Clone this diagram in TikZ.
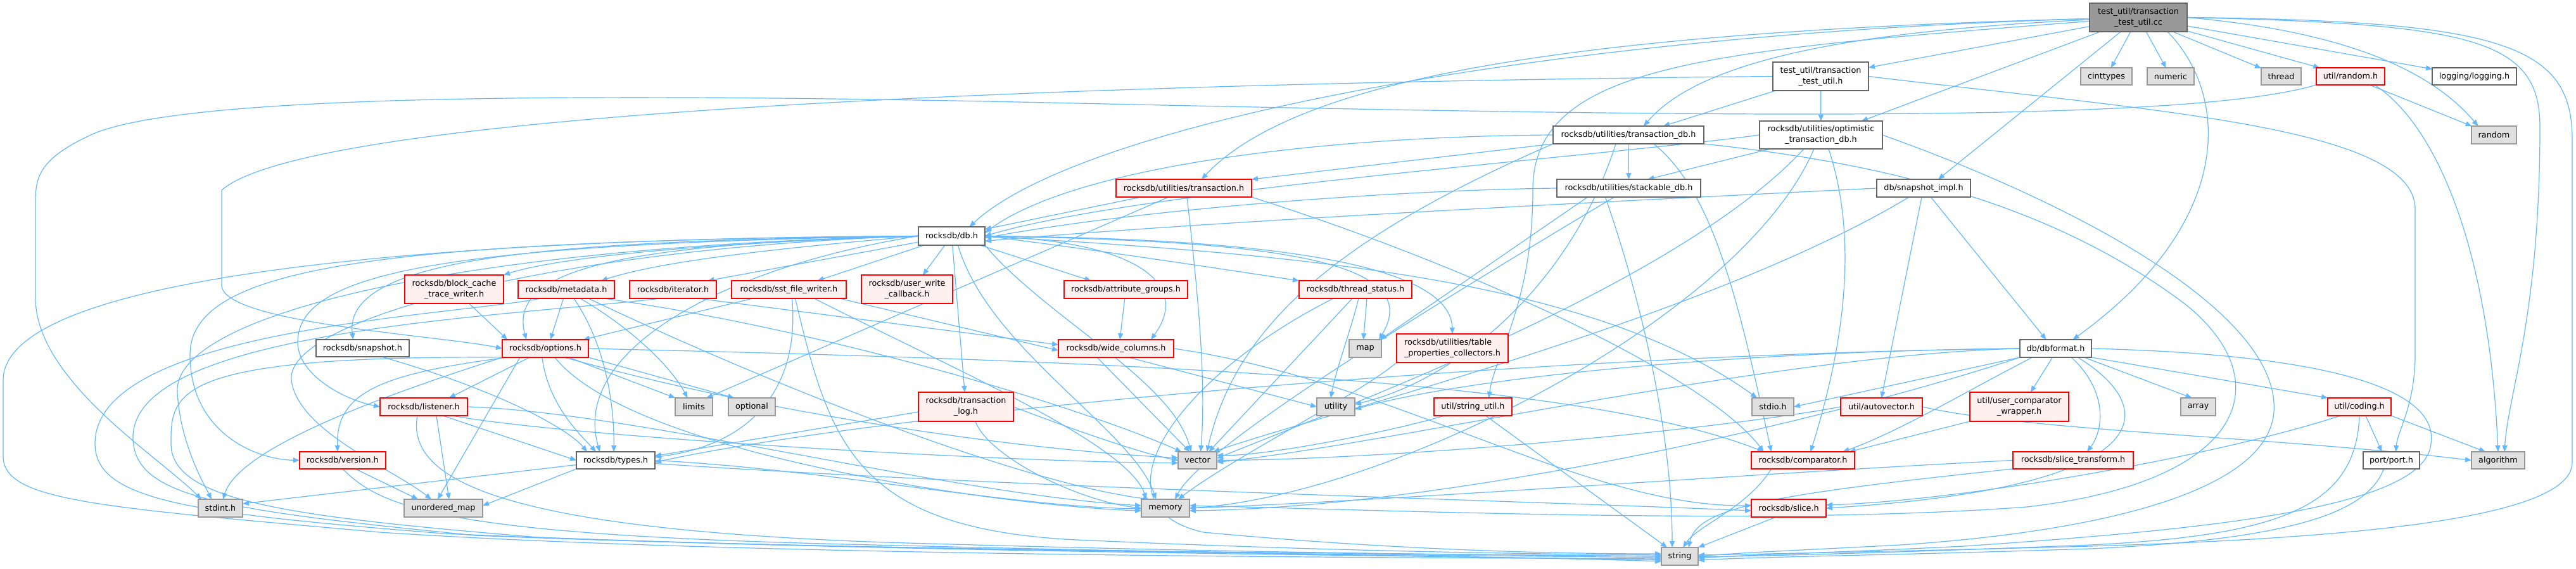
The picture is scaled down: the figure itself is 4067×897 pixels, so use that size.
\documentclass[tikz,border=0pt]{standalone}
\usepackage{fontspec}
\setmainfont{DejaVu Sans}
\usetikzlibrary{arrows.meta,backgrounds}
\definecolor{edgec}{HTML}{63B8FF}
\definecolor{redb}{HTML}{FF0000}
\definecolor{redf}{HTML}{FFF0F0}
\definecolor{grayf}{HTML}{E0E0E0}
\definecolor{grayb}{HTML}{999999}
\definecolor{darkb}{HTML}{666666}
\definecolor{ccf}{HTML}{999999}
\pgfdeclarelayer{bgzero}
\pgfsetlayers{bgzero,background,main}
\newcommand\mknode[7]{\node[#2,minimum width=#3pt,minimum height=#4pt] (#1) at (#5,#6) {#7};}
\tikzset{
  ndbase/.style={draw,inner sep=0pt,outer sep=0pt,line width=1.4pt,align=center,font=\fontsize{12.8}{17.2}\selectfont},
  rednd/.style={ndbase,draw=redb,fill=redf},
  graynd/.style={ndbase,draw=grayb,fill=grayf},
  whitend/.style={ndbase,draw=darkb,fill=white},
  ccnd/.style={ndbase,draw=darkb,fill=ccf},
  lnk/.style={draw=edgec,line width=1.2pt,-{Triangle[length=10pt,width=8pt]}}
}
\begin{document}
\begin{tikzpicture}[x=1pt,y=1pt]
\begin{pgfonlayer}{bgzero}
\fill[white] (0,0) rectangle (4067,-897);
\end{pgfonlayer}
\useasboundingbox (0,0) rectangle (4067,-897);
% nodes
\mknode{cc}{ccnd}{154}{45}{3376}{-27.5}{test\_util/transaction\\\_test\_util.cc}
\mknode{tth}{whitend}{151}{45}{2874.5}{-120.5}{test\_util/transaction\\\_test\_util.h}
\mknode{cinttypes}{graynd}{81}{27}{3325.5}{-120.5}{cinttypes}
\mknode{numeric}{graynd}{74}{27}{3427}{-120.5}{numeric}
\mknode{thread}{graynd}{63}{27}{3601.5}{-120.5}{thread}
\mknode{randomh}{rednd}{108}{27}{3711}{-120.5}{util/random.h}
\mknode{logging}{whitend}{133}{27}{3906.5}{-120.5}{logging/logging.h}
\mknode{tdb}{whitend}{238}{28}{2571}{-213}{rocksdb/utilities/transaction\_db.h}
\mknode{otdb}{whitend}{194}{44}{2875}{-213}{rocksdb/utilities/optimistic\\\_transaction\_db.h}
\mknode{random}{graynd}{71}{28}{3937.5}{-213}{random}
\mknode{txn}{rednd}{214}{28}{1869}{-297}{rocksdb/utilities/transaction.h}
\mknode{stackable}{whitend}{227}{28}{2571.5}{-297}{rocksdb/utilities/stackable\_db.h}
\mknode{snapimpl}{whitend}{148}{28}{3037}{-297}{db/snapshot\_impl.h}
\mknode{dbh}{whitend}{105}{29}{1502.5}{-372.5}{rocksdb/db.h}
\mknode{block}{rednd}{156}{45}{717}{-456.5}{rocksdb/block\_cache\\\_trace\_writer.h}
\mknode{metadata}{rednd}{152}{28}{894}{-457}{rocksdb/metadata.h}
\mknode{iterator}{rednd}{137}{28}{1062.5}{-457}{rocksdb/iterator.h}
\mknode{sst}{rednd}{181}{28}{1245.5}{-457}{rocksdb/sst\_file\_writer.h}
\mknode{uwc}{rednd}{144}{45}{1432}{-456.5}{rocksdb/user\_write\\\_callback.h}
\mknode{attr}{rednd}{195}{28}{1777.5}{-457}{rocksdb/attribute\_groups.h}
\mknode{tstatus}{rednd}{178}{28}{2140}{-457}{rocksdb/thread\_status.h}
\mknode{snapshot}{whitend}{147}{27}{572.5}{-549.5}{rocksdb/snapshot.h}
\mknode{options}{rednd}{136}{28}{861}{-550}{rocksdb/options.h}
\mknode{wide}{rednd}{182}{28}{1762}{-550}{rocksdb/wide\_columns.h}
\mknode{map}{graynd}{51}{28}{2155.5}{-550}{map}
\mknode{tpc}{rednd,align=left}{176}{45}{2293}{-549.5}{rocksdb/utilities/table\\\_properties\_collectors.h}
\mknode{dbformat}{whitend}{113}{28}{3245.5}{-550}{db/dbformat.h}
\mknode{listener}{rednd}{138}{28}{669}{-642}{rocksdb/listener.h}
\mknode{limits}{graynd}{59}{28}{1095.5}{-642}{limits}
\mknode{optional}{graynd}{74}{28}{1187}{-642}{optional}
\mknode{tlog}{rednd}{150}{46}{1525}{-642}{rocksdb/transaction\\\_log.h}
\mknode{utility}{graynd}{60}{28}{2109}{-642}{utility}
\mknode{strutil}{rednd}{123}{28}{2325.5}{-642}{util/string\_util.h}
\mknode{stdio}{graynd}{66}{28}{2799}{-642}{stdio.h}
\mknode{autovec}{rednd}{129}{28}{2970.5}{-642}{util/autovector.h}
\mknode{ucw}{rednd}{156}{46}{3188}{-642}{util/user\_comparator\\\_wrapper.h}
\mknode{array}{graynd}{55}{28}{3470.5}{-642}{array}
\mknode{coding}{rednd}{100}{28}{3725}{-642}{util/coding.h}
\mknode{version}{rednd}{136}{27}{541}{-726.5}{rocksdb/version.h}
\mknode{types}{whitend}{124}{27}{972}{-726.5}{rocksdb/types.h}
\mknode{vector}{graynd}{61}{27}{1890.5}{-726.5}{vector}
\mknode{comparator}{rednd}{163}{27}{2846.5}{-726.5}{rocksdb/comparator.h}
\mknode{slicetr}{rednd}{190}{27}{3273}{-726.5}{rocksdb/slice\_transform.h}
\mknode{port}{whitend}{89}{27}{3775.5}{-726.5}{port/port.h}
\mknode{algorithm}{graynd}{84}{27}{3944}{-726.5}{algorithm}
\mknode{stdint}{graynd}{70}{28}{348}{-802}{stdint.h}
\mknode{umap}{graynd}{124}{28}{700}{-802}{unordered\_map}
\mknode{memory}{graynd}{76}{28}{1840}{-802}{memory}
\mknode{slice}{rednd}{118}{28}{2824}{-802}{rocksdb/slice.h}
\mknode{string}{graynd}{58}{28}{2652}{-878}{string}
% edges
\begin{pgfonlayer}{background}
% from cc
\draw[lnk] (cc) -- (tth);
\draw[lnk] (cc) -- (cinttypes);
\draw[lnk] (cc) -- (numeric);
\draw[lnk] (cc) -- (thread);
\draw[lnk] (cc) -- (randomh);
\draw[lnk] (cc) -- (logging);
\draw[lnk] (cc.east) .. controls (3650,-45) and (3820,-90) .. ([xshift=-25pt]random.north);
\draw[lnk] (cc.east) .. controls (3900,-38) and (4010,-60) .. (4010,-200) .. controls (4010,-500) and (3960,-620) .. ([xshift=10pt]algorithm.north);
\draw[lnk] (cc.east) .. controls (3950,-33) and (4061,-70) .. (4061,-220) -- (4061,-730) .. controls (4061,-820) and (3700,-850) .. (3300,-862) .. controls (3000,-870) and (2800,-874) .. ([yshift=2pt]string.east);
\draw[lnk] (cc) .. controls (2400,-55) and (1700,-200) .. ([xshift=28pt]dbh.north);
\draw[lnk] (cc) .. controls (2500,-50) and (2050,-120) .. ([xshift=28pt]txn.north);
\draw[lnk] (cc) .. controls (2900,-50) and (2680,-100) .. ([xshift=24pt]tdb.north);
\draw[lnk] (cc) -- ([xshift=64pt]otdb.north);
\draw[lnk] (cc) -- ([xshift=23pt]snapimpl.north);
\draw[lnk] ([xshift=46pt]cc.south) .. controls (3520,-150) and (3530,-350) .. ([xshift=27pt]dbformat.north);
\draw[lnk] (cc) .. controls (2700,-80) and (2420,-100) .. (2420,-300) .. controls (2420,-480) and (2360,-560) .. ([xshift=25pt]strutil.north);
% from tth
\draw[lnk] (tth) -- (otdb);
\draw[lnk] (tth) -- ([xshift=55pt]tdb.north);
\draw[lnk] (tth.west) .. controls (1800,-130) and (500,-170) .. (350,-300) -- (350,-450) .. controls (350,-510) and (700,-530) .. (options.west);
\draw[lnk] (tth.east) .. controls (3400,-175) and (3813,-200) .. (3813,-330) -- (3813,-560) .. controls (3813,-640) and (3785,-680) .. ([xshift=7pt]port.north);
% from tdb
\draw[lnk] (tdb) -- (stackable);
\draw[lnk] (tdb.south west) -- (txn.north east);
\draw[lnk] (tdb.west) .. controls (2100,-215) and (1700,-260) .. ([yshift=5pt]dbh.east);
\draw[lnk] ([xshift=40pt]tdb.south) .. controls (2700,-300) and (2740,-450) .. ([xshift=-50pt]comparator.north);
\draw[lnk] (tdb.south west) .. controls (2100,-380) and (1950,-520) .. ([xshift=15pt]vector.north);
\draw[lnk] ([xshift=-20pt]tdb.south) .. controls (2480,-450) and (2300,-600) .. ([yshift=4pt]utility.east);
\draw[lnk] (tdb.south east) .. controls (3000,-260) and (3250,-330) .. (3450,-480) .. controls (3600,-600) and (3550,-760) .. (3200,-800) .. controls (2800,-830) and (2200,-805) .. ([yshift=4pt]memory.east);
% from otdb
\draw[lnk] ([xshift=-80pt]otdb.south) -- ([xshift=30pt]stackable.north);
\draw[lnk] (otdb.west) .. controls (2500,-250) and (1800,-300) .. (dbh.east);
\draw[lnk] ([xshift=12pt]otdb.south) .. controls (2925,-350) and (2925,-500) .. ([xshift=12pt]comparator.north);
\draw[lnk] ([xshift=-27pt]otdb.south) .. controls (2650,-450) and (2100,-650) .. ([yshift=3pt]vector.east);
\draw[lnk] ([xshift=-11pt]otdb.south) .. controls (2750,-500) and (2200,-780) .. (memory.east);
\draw[lnk] (otdb.east) .. controls (3300,-330) and (3600,-500) .. (3590,-650) .. controls (3580,-780) and (3300,-840) .. (3000,-860) .. controls (2850,-868) and (2750,-872) .. (string.east);
% from txn
\draw[lnk] (txn) -- (dbh);
\draw[lnk] (txn.south east) .. controls (2350,-430) and (2700,-600) .. ([xshift=-62pt]comparator.north);
\draw[lnk] ([xshift=-24pt]txn.south) -- ([xshift=20pt]limits.north);
\draw[lnk] ([xshift=5pt]txn.south) .. controls (1890,-450) and (1905,-600) .. ([xshift=5pt]vector.north);
% from stackable
\draw[lnk] (stackable.west) .. controls (2200,-300) and (1800,-330) .. ([yshift=-3pt]dbh.east);
\draw[lnk] ([xshift=-65pt]stackable.south) -- ([xshift=-2pt]map.north east);
\draw[lnk] ([xshift=-37pt]stackable.south) .. controls (2600,-500) and (2640,-700) .. ([xshift=-12pt]string.north);
\draw[lnk] ([xshift=-23pt]stackable.south) .. controls (2300,-460) and (1900,-700) .. ([xshift=15pt]memory.north);
% from snapimpl
\draw[lnk] (snapimpl.west) .. controls (2500,-320) and (1900,-350) .. ([yshift=-8pt]dbh.east);
\draw[lnk] (snapimpl) -- ([xshift=-15pt]dbformat.north);
\draw[lnk] ([xshift=-3pt]snapimpl.south) -- (autovec.north);
\draw[lnk] ([xshift=-23pt]snapimpl.south) .. controls (2700,-500) and (2100,-650) .. ([xshift=25pt]vector.north);
% from dbh
\draw[lnk] (dbh.west) .. controls (1200,-380) and (900,-400) .. (block.north east);
\draw[lnk] (dbh.west) .. controls (1250,-390) and (1050,-410) .. ([xshift=55pt]metadata.north);
\draw[lnk] (dbh) -- ([xshift=55pt]iterator.north);
\draw[lnk] (dbh) -- ([xshift=45pt]sst.north);
\draw[lnk] (dbh) -- ([xshift=25pt]uwc.north);
\draw[lnk] (dbh) -- ([xshift=-55pt]attr.north);
\draw[lnk] (dbh.east) .. controls (1700,-390) and (1900,-420) .. (tstatus.north west);
\draw[lnk] (dbh.east) .. controls (1950,-380) and (2260,-400) .. ([xshift=-4pt]map.north east);
\draw[lnk] (dbh.west) .. controls (900,-380) and (540,-400) .. ([xshift=-15pt]snapshot.north);
\draw[lnk] (dbh.west) .. controls (1000,-385) and (800,-420) .. ([xshift=-30pt]options.north);
\draw[lnk] (dbh.west) .. controls (700,-385) and (470,-430) .. (470,-540) .. controls (470,-590) and (540,-630) .. (listener.west);
\draw[lnk] (dbh.west) .. controls (600,-380) and (300,-420) .. (300,-560) .. controls (300,-680) and (400,-725) .. (version.west);
\draw[lnk] (dbh.west) .. controls (700,-390) and (270,-500) .. (280,-620) .. controls (285,-700) and (320,-760) .. ([xshift=-14pt]stdint.north);
\draw[lnk] (dbh.west) .. controls (900,-390) and (450,-500) .. (460,-600) .. controls (470,-680) and (620,-740) .. ([xshift=-19pt]umap.north);
\draw[lnk] (dbh.east) .. controls (2000,-400) and (2500,-430) .. ([xshift=-25pt]stdio.north);
\draw[lnk] ([xshift=10pt]dbh.south) .. controls (1560,-550) and (1790,-680) .. ([xshift=-15pt]memory.north);
\draw[lnk] (dbh.south east) .. controls (1650,-500) and (1850,-600) .. ([xshift=-10pt]vector.north);
\draw[lnk] (dbh.west) .. controls (800,-375) and (5,-420) .. (5,-600) -- (5,-720) .. controls (5,-790) and (150,-800) .. (600,-840) .. controls (1200,-880) and (2300,-880) .. ([yshift=-4pt]string.west);
\draw[lnk] (dbh) -- (tlog);
\draw[lnk] (dbh.west) .. controls (1150,-420) and (900,-550) .. ([xshift=-25pt]types.north);
\draw[lnk] (dbh.east) .. controls (1800,-380) and (1880,-450) .. ([xshift=55pt]wide.north);
\draw[lnk] (dbh.east) .. controls (1900,-375) and (2290,-400) .. (tpc.north);
% block, metadata, iterator, sst, attr, tstatus, snapshot
\draw[lnk] (block) -- ([xshift=-60pt]options.north);
\draw[lnk] (metadata) -- ([xshift=8pt]options.north);
\draw[lnk] ([xshift=12pt]metadata.south) .. controls (960,-550) and (970,-650) .. ([xshift=-3pt]types.north);
\draw[lnk] ([xshift=22pt]metadata.south) .. controls (1000,-520) and (1060,-580) .. ([xshift=-10pt]limits.north);
\draw[lnk] ([xshift=35pt]metadata.south) .. controls (1200,-600) and (1600,-760) .. ([xshift=-25pt]memory.north);
\draw[lnk] ([xshift=60pt]metadata.south) .. controls (1300,-520) and (1700,-640) .. ([xshift=-25pt]vector.north);
\draw[lnk] ([xshift=-40pt]metadata.south) .. controls (700,-500) and (150,-520) .. (150,-700) .. controls (150,-790) and (300,-810) .. (700,-842) .. controls (1300,-870) and (2300,-876) .. ([yshift=-2pt]string.west);
\draw[lnk] ([xshift=-20pt]iterator.south) .. controls (800,-500) and (210,-520) .. (210,-690) .. controls (210,-785) and (350,-805) .. (750,-845) .. controls (1350,-870) and (2300,-874) .. (string.west);
\draw[lnk] ([xshift=40pt]iterator.south) -- ([yshift=6pt]wide.west);
\draw[lnk] ([xshift=-57pt]sst.south) -- ([xshift=60pt]options.north);
\draw[lnk] ([xshift=5pt]sst.south) .. controls (1262,-600) and (1200,-700) .. ([yshift=5pt]types.east);
\draw[lnk] ([xshift=80pt]sst.south) -- ([yshift=-3pt]wide.west);
\draw[lnk] ([xshift=40pt]sst.south) .. controls (1500,-580) and (1780,-700) .. ([xshift=-30pt]memory.north);
\draw[lnk] ([xshift=10pt]sst.south) .. controls (1310,-700) and (1350,-835) .. (1700,-852) .. controls (2100,-870) and (2400,-874) .. ([yshift=2pt]string.west);
\draw[lnk] (attr) -- ([xshift=6pt]wide.north);
\draw[lnk] ([xshift=18pt]tstatus.south) -- ([xshift=-3pt]map.north);
\draw[lnk] ([xshift=5pt]tstatus.south) .. controls (2130,-530) and (2110,-580) .. ([xshift=-8pt]utility.north);
\draw[lnk] ([xshift=-5pt]tstatus.south) -- ([xshift=18pt]vector.north);
\draw[lnk] ([xshift=-35pt]tstatus.south) .. controls (1850,-600) and (1720,-800) .. (1900,-840) .. controls (2200,-868) and (2450,-874) .. ([yshift=4pt]string.west);
\draw[lnk] ([xshift=30pt]snapshot.south) .. controls (800,-620) and (900,-680) .. ([xshift=-45pt]types.north);
% options
\draw[lnk] (options.south west) .. controls (650,-610) and (380,-700) .. ([xshift=4pt]stdint.north);
\draw[lnk] ([xshift=37pt]options.south) -- (limits.north west);
\draw[lnk] (options.south east) -- ([xshift=-28pt]optional.north);
\draw[lnk] ([xshift=15pt]options.south) .. controls (1000,-720) and (1600,-800) .. ([yshift=-4pt]memory.west);
\draw[lnk] ([xshift=-55pt]options.south) .. controls (270,-560) and (270,-620) .. (270,-700) .. controls (270,-790) and (450,-815) .. (850,-848) .. controls (1450,-872) and (2300,-877) .. ([yshift=-6pt]string.west);
\draw[lnk] ([xshift=-40pt]options.south) -- ([xshift=-9pt]umap.north);
\draw[lnk] ([xshift=30pt]options.south) .. controls (1200,-650) and (1600,-710) .. ([yshift=4pt]vector.west);
\draw[lnk] (options.east) .. controls (1800,-570) and (2500,-600) .. ([xshift=-62pt]comparator.north);
\draw[lnk] ([xshift=-25pt]options.south) -- ([xshift=40pt]listener.north);
\draw[lnk] ([xshift=-5pt]options.south) .. controls (865,-640) and (920,-690) .. ([xshift=-31pt]types.north);
\draw[lnk] ([xshift=-60pt]options.south) .. controls (600,-590) and (530,-620) .. ([xshift=-8pt]version.north);
% wide, tpc
\draw[lnk] ([xshift=20pt]wide.south) -- (utility.west);
\draw[lnk] ([xshift=-30pt]wide.south) -- ([xshift=-12pt]vector.north);
\draw[lnk] (wide.east) .. controls (2200,-600) and (2500,-800) .. ([yshift=4pt]slice.west);
\draw[lnk] (tpc.south west) .. controls (2150,-620) and (1950,-720) .. ([xshift=20pt]memory.north);
% dbformat
\draw[lnk] (dbformat.south west) -- (stdio.east);
\draw[lnk] ([xshift=-5pt]dbformat.south) -- ([xshift=18pt]ucw.north);
\draw[lnk] ([xshift=-37pt]dbformat.south) .. controls (3100,-620) and (3000,-680) .. ([xshift=63pt]comparator.north);
\draw[lnk] ([xshift=25pt]dbformat.south) .. controls (3330,-620) and (3320,-680) .. ([xshift=22pt]slicetr.north);
\draw[lnk] ([xshift=45pt]dbformat.south) -- ([xshift=-10pt]array.north);
\draw[lnk] (dbformat.south east) -- (coding.north west);
\draw[lnk] ([xshift=35pt]dbformat.south) .. controls (3420,-650) and (3400,-770) .. (slice.east);
\draw[lnk] (dbformat.east) .. controls (3700,-560) and (3850,-620) .. (3838,-700) .. controls (3830,-800) and (3500,-835) .. (3100,-862) .. controls (2900,-872) and (2750,-876) .. ([yshift=-3pt]string.east);
\draw[lnk] (dbformat.south west) .. controls (2900,-660) and (2300,-800) .. ([yshift=-4pt]memory.east);
\draw[lnk] (dbformat.west) .. controls (2800,-560) and (2200,-700) .. ([yshift=-3pt]vector.east);
\draw[lnk] (dbformat.west) .. controls (2700,-555) and (2300,-600) .. ([yshift=-4pt]utility.east);
\draw[lnk] (dbformat.west) .. controls (2400,-560) and (1400,-650) .. ([yshift=-3pt]types.east);
% listener
\draw[lnk] ([xshift=20pt]listener.south) -- ([xshift=9pt]umap.north);
\draw[lnk] (listener.east) .. controls (1000,-650) and (1500,-780) .. ([yshift=4pt]memory.west);
\draw[lnk] ([xshift=45pt]listener.south) .. controls (900,-690) and (1600,-730) .. ([yshift=-4pt]vector.west);
\draw[lnk] ([xshift=30pt]listener.south) -- (types.west);
\draw[lnk] ([xshift=-10pt]listener.south) .. controls (640,-760) and (800,-835) .. (1400,-856) .. controls (2000,-874) and (2400,-876) .. (string.west);
% tlog
\draw[lnk] ([yshift=-8pt]tlog.west) -- ([yshift=7pt]types.east);
\draw[lnk] ([xshift=15pt]tlog.south) .. controls (1560,-720) and (1700,-790) .. (memory.west);
\draw[lnk] (tlog.east) .. controls (1700,-680) and (1800,-715) .. (vector.west);
% strutil
\draw[lnk] ([xshift=-45pt]strutil.south) .. controls (2200,-680) and (2000,-720) .. ([yshift=8pt]vector.east);
\draw[lnk] ([xshift=20pt]strutil.south) -- ([xshift=-20pt]string.north);
% autovec, ucw, coding
\draw[lnk] (autovec.east) .. controls (3200,-680) and (3600,-690) .. (algorithm.west);
\draw[lnk] (autovec.west) .. controls (2700,-680) and (2200,-725) .. (vector.east);
\draw[lnk] (ucw.south west) -- ([xshift=73pt]comparator.north);
\draw[lnk] (coding.south east) -- ([xshift=-20pt]algorithm.north);
\draw[lnk] ([xshift=10pt]coding.south) -- ([xshift=-15pt]port.north);
\draw[lnk] ([xshift=-30pt]coding.south) .. controls (3500,-720) and (3100,-790) .. ([yshift=5pt]slice.east);
\draw[lnk] (coding.south) .. controls (3720,-800) and (3600,-845) .. (3300,-860) .. controls (3000,-872) and (2800,-877) .. ([yshift=-1pt]string.east);
% version, types
\draw[lnk] ([xshift=20pt]version.south) -- ([xshift=-40pt]umap.north);
\draw[lnk] (version.south) .. controls (600,-800) and (700,-842) .. (1300,-858) .. controls (2000,-876) and (2400,-878) .. ([yshift=-8pt]string.west);
\draw[lnk] ([yshift=-7pt]types.west) -- ([yshift=7pt]stdint.east);
\draw[lnk] (types.south west) -- ([yshift=4pt]umap.east);
\draw[lnk] (types.east) .. controls (1300,-740) and (1600,-800) .. ([yshift=-1pt]memory.west);
\draw[lnk] ([yshift=-5pt]types.east) .. controls (1600,-770) and (2400,-790) .. ([yshift=-4pt]slice.west);
% comparator, slicetr, slice, port
\draw[lnk] ([xshift=-50pt]comparator.south) .. controls (2760,-800) and (2680,-830) .. ([xshift=5pt]string.north);
\draw[lnk] (slicetr.south west) .. controls (2800,-780) and (2680,-800) .. ([xshift=14pt]string.north);
\draw[lnk] (slicetr.west) .. controls (2800,-745) and (2200,-790) .. (memory.east);
\draw[lnk] ([xshift=-20pt]slice.south) -- (string.north east);
\draw[lnk] ([xshift=-12pt]port.south) .. controls (3740,-800) and (3650,-850) .. (3300,-866) .. controls (3000,-876) and (2800,-878) .. ([yshift=-6pt]string.east);
% randomh
\draw[lnk] ([xshift=30pt]randomh.south) -- ([xshift=-35pt]random.north);
\draw[lnk] ([xshift=38pt]randomh.south) .. controls (3850,-200) and (3930,-400) .. (algorithm.north);
\draw[lnk] (randomh.south west) .. controls (3450,-195) and (2700,-185) .. (1700,-163) .. controls (900,-145) and (300,-150) .. (150,-210) .. controls (60,-250) and (56,-280) .. (56,-320) -- (56,-470) .. controls (56,-600) and (250,-720) .. ([xshift=-30pt]stdint.north);
\end{pgfonlayer}
\end{tikzpicture}
\end{document}
